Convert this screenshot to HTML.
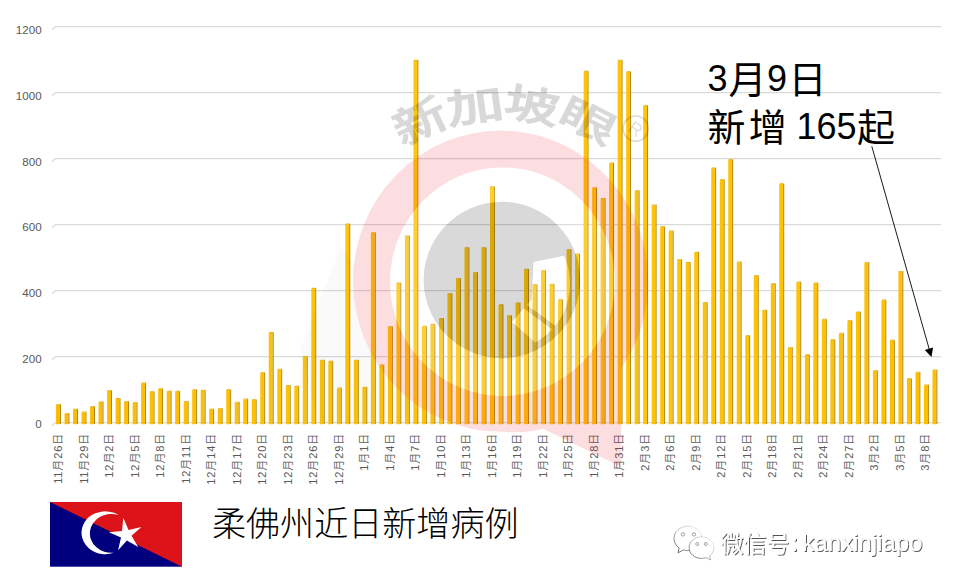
<!DOCTYPE html>
<html lang="zh"><head><meta charset="utf-8"><title>柔佛州近日新增病例</title>
<style>html,body{margin:0;padding:0;background:#fff}body{width:955px;height:587px;overflow:hidden}svg{display:block}text{font-family:"Liberation Sans", "Noto Sans CJK SC", sans-serif}</style></head><body>
<svg width="955" height="587" viewBox="0 0 955 587">
<defs>
<linearGradient id="bf" x1="0" x2="1" y1="0" y2="0"><stop offset="0" stop-color="#FCBB00"/><stop offset="0.45" stop-color="#FFC60C"/><stop offset="1" stop-color="#FEBF00"/></linearGradient>
<clipPath id="outring"><path clip-rule="evenodd" d="M250 150 H520 V480 H250 Z M501 130.6 A148 150.6 0 0 1 501 431.8 A148 150.6 0 0 1 501 130.6 Z"/></clipPath>
<linearGradient id="wcs" x1="1" y1="0" x2="0" y2="1"><stop offset="0" stop-color="#555" stop-opacity="0.04"/><stop offset="0.5" stop-color="#555" stop-opacity="0.4"/><stop offset="1" stop-color="#444" stop-opacity="0.95"/></linearGradient>
<filter id="tsh" x="-5%" y="-20%" width="110%" height="150%"><feDropShadow dx="0.9" dy="0.9" stdDeviation="0.7" flood-color="#000" flood-opacity="0.75"/></filter>
<mask id="dm" maskUnits="userSpaceOnUse" x="400" y="180" width="210" height="200"><rect x="400" y="180" width="210" height="200" fill="#fff"/><path d="M533.6 262 L564 255.7 A67.5 67.5 0 0 1 535.4 342.5 L512 322 L524.5 307.8 L531.6 300 Z" fill="#000"/><path d="M523.0 307.7 L525.7 304.0 L558.4 328.1 L555.6 331.9 Z" fill="#fff"/></mask>
<mask id="gm" maskUnits="userSpaceOnUse" x="400" y="180" width="210" height="200"><rect x="400" y="180" width="210" height="200" fill="#fff"/><path d="M523.0 307.7 L525.7 304.0 L558.4 328.1 L555.6 331.9 Z" fill="#000"/></mask>
</defs>
<rect width="955" height="587" fill="#fff"/>
<g stroke="#D9D9D9" stroke-width="1.1" fill="none">
<path d="M52 425.5 L55.6 422.6 H941"/>
<path d="M52 359.5 L55.6 356.6 H941"/>
<path d="M52 293.5 L55.6 290.6 H941"/>
<path d="M52 227.5 L55.6 224.6 H941"/>
<path d="M52 161.5 L55.6 158.6 H941"/>
<path d="M52 95.5 L55.6 92.6 H941"/>
<path d="M52 29.5 L55.6 26.6 H941"/>
</g>
<g font-size="11.6" fill="#595959" text-anchor="end">
<text x="41.6" y="428.1">0</text>
<text x="41.6" y="362.5">200</text>
<text x="41.6" y="296.9">400</text>
<text x="41.6" y="231.3">600</text>
<text x="41.6" y="165.7">800</text>
<text x="41.6" y="100.0">1000</text>
<text x="41.6" y="34.4">1200</text>
</g>
<g>
<path fill="url(#bf)" d="M56.05 404.72h3.90V424.20h-3.90zM64.56 413.63h3.90V424.20h-3.90zM73.07 409.34h3.90V424.20h-3.90zM81.58 412.15h3.90V424.20h-3.90zM90.09 406.70h3.90V424.20h-3.90zM98.59 402.08h3.90V424.20h-3.90zM107.10 390.86h3.90V424.20h-3.90zM115.61 398.78h3.90V424.20h-3.90zM124.12 401.75h3.90V424.20h-3.90zM132.63 402.74h3.90V424.20h-3.90zM141.14 383.27h3.90V424.20h-3.90zM149.65 392.02h3.90V424.20h-3.90zM158.16 388.88h3.90V424.20h-3.90zM166.67 391.36h3.90V424.20h-3.90zM175.18 391.36h3.90V424.20h-3.90zM183.69 401.75h3.90V424.20h-3.90zM192.19 389.97h3.90V424.20h-3.90zM200.70 390.33h3.90V424.20h-3.90zM209.21 409.57h3.90V424.20h-3.90zM217.72 408.71h3.90V424.20h-3.90zM226.23 389.97h3.90V424.20h-3.90zM234.74 402.41h3.90V424.20h-3.90zM243.25 399.18h3.90V424.20h-3.90zM251.76 399.87h3.90V424.20h-3.90zM260.27 372.94h3.90V424.20h-3.90zM268.78 332.78h3.90V424.20h-3.90zM277.28 369.41h3.90V424.20h-3.90zM285.79 385.58h3.90V424.20h-3.90zM294.30 386.57h3.90V424.20h-3.90zM302.81 356.94h3.90V424.20h-3.90zM311.32 288.56h3.90V424.20h-3.90zM319.83 360.34h3.90V424.20h-3.90zM328.34 361.36h3.90V424.20h-3.90zM336.85 388.22h3.90V424.20h-3.90zM345.36 224.21h3.90V424.20h-3.90zM353.87 360.34h3.90V424.20h-3.90zM362.37 387.56h3.90V424.20h-3.90zM370.88 232.92h3.90V424.20h-3.90zM379.39 365.29h3.90V424.20h-3.90zM387.90 326.94h3.90V424.20h-3.90zM396.41 283.28h3.90V424.20h-3.90zM404.92 236.09h3.90V424.20h-3.90zM413.43 60.33h3.90V424.20h-3.90zM421.94 326.51h3.90V424.20h-3.90zM430.45 324.53h3.90V424.20h-3.90zM438.96 318.59h3.90V424.20h-3.90zM447.46 293.84h3.90V424.20h-3.90zM455.97 278.76h3.90V424.20h-3.90zM464.48 247.97h3.90V424.20h-3.90zM472.99 272.72h3.90V424.20h-3.90zM481.50 247.97h3.90V424.20h-3.90zM490.01 186.92h3.90V424.20h-3.90zM498.52 305.06h3.90V424.20h-3.90zM507.03 315.95h3.90V424.20h-3.90zM515.54 303.08h3.90V424.20h-3.90zM524.04 269.55h3.90V424.20h-3.90zM532.55 284.93h3.90V424.20h-3.90zM541.06 270.74h3.90V424.20h-3.90zM549.57 284.37h3.90V424.20h-3.90zM558.08 299.88h3.90V424.20h-3.90zM566.59 249.95h3.90V424.20h-3.90zM575.10 254.08h3.90V424.20h-3.90zM583.61 71.55h3.90V424.20h-3.90zM592.12 187.98h3.90V424.20h-3.90zM600.63 198.80h3.90V424.20h-3.90zM609.13 163.16h3.90V424.20h-3.90zM617.64 60.33h3.90V424.20h-3.90zM626.15 71.91h3.90V424.20h-3.90zM634.66 190.88h3.90V424.20h-3.90zM643.17 106.07h3.90V424.20h-3.90zM651.68 205.20h3.90V424.20h-3.90zM660.19 226.98h3.90V424.20h-3.90zM668.70 231.24h3.90V424.20h-3.90zM677.21 259.85h3.90V424.20h-3.90zM685.72 262.82h3.90V424.20h-3.90zM694.23 252.36h3.90V424.20h-3.90zM702.73 302.75h3.90V424.20h-3.90zM711.24 168.24h3.90V424.20h-3.90zM719.75 179.83h3.90V424.20h-3.90zM728.26 159.86h3.90V424.20h-3.90zM736.77 262.16h3.90V424.20h-3.90zM745.28 335.98h3.90V424.20h-3.90zM753.79 275.69h3.90V424.20h-3.90zM762.30 310.34h3.90V424.20h-3.90zM770.81 284.04h3.90V424.20h-3.90zM779.31 183.95h3.90V424.20h-3.90zM787.82 347.73h3.90V424.20h-3.90zM796.33 282.16h3.90V424.20h-3.90zM804.84 355.06h3.90V424.20h-3.90zM813.35 283.18h3.90V424.20h-3.90zM821.86 319.48h3.90V424.20h-3.90zM830.37 339.88h3.90V424.20h-3.90zM838.88 333.44h3.90V424.20h-3.90zM847.39 321.00h3.90V424.20h-3.90zM855.90 312.32h3.90V424.20h-3.90zM864.40 262.75h3.90V424.20h-3.90zM872.91 370.90h3.90V424.20h-3.90zM881.42 300.24h3.90V424.20h-3.90zM889.93 340.57h3.90V424.20h-3.90zM898.44 271.60h3.90V424.20h-3.90zM906.95 378.91h3.90V424.20h-3.90zM915.46 372.45h3.90V424.20h-3.90zM923.97 385.25h3.90V424.20h-3.90zM932.48 370.20h3.90V424.20h-3.90z"/>
<path fill="#B38600" d="M59.95 404.72l1.00 -0.7V423.70l-1.00 0.5zM68.46 413.63l1.00 -0.7V423.70l-1.00 0.5zM76.97 409.34l1.00 -0.7V423.70l-1.00 0.5zM85.48 412.15l1.00 -0.7V423.70l-1.00 0.5zM93.99 406.70l1.00 -0.7V423.70l-1.00 0.5zM102.50 402.08l1.00 -0.7V423.70l-1.00 0.5zM111.00 390.86l1.00 -0.7V423.70l-1.00 0.5zM119.51 398.78l1.00 -0.7V423.70l-1.00 0.5zM128.02 401.75l1.00 -0.7V423.70l-1.00 0.5zM136.53 402.74l1.00 -0.7V423.70l-1.00 0.5zM145.04 383.27l1.00 -0.7V423.70l-1.00 0.5zM153.55 392.02l1.00 -0.7V423.70l-1.00 0.5zM162.06 388.88l1.00 -0.7V423.70l-1.00 0.5zM170.57 391.36l1.00 -0.7V423.70l-1.00 0.5zM179.08 391.36l1.00 -0.7V423.70l-1.00 0.5zM187.59 401.75l1.00 -0.7V423.70l-1.00 0.5zM196.09 389.97l1.00 -0.7V423.70l-1.00 0.5zM204.60 390.33l1.00 -0.7V423.70l-1.00 0.5zM213.11 409.57l1.00 -0.7V423.70l-1.00 0.5zM221.62 408.71l1.00 -0.7V423.70l-1.00 0.5zM230.13 389.97l1.00 -0.7V423.70l-1.00 0.5zM238.64 402.41l1.00 -0.7V423.70l-1.00 0.5zM247.15 399.18l1.00 -0.7V423.70l-1.00 0.5zM255.66 399.87l1.00 -0.7V423.70l-1.00 0.5zM264.17 372.94l1.00 -0.7V423.70l-1.00 0.5zM272.68 332.78l1.00 -0.7V423.70l-1.00 0.5zM281.18 369.41l1.00 -0.7V423.70l-1.00 0.5zM289.69 385.58l1.00 -0.7V423.70l-1.00 0.5zM298.20 386.57l1.00 -0.7V423.70l-1.00 0.5zM306.71 356.94l1.00 -0.7V423.70l-1.00 0.5zM315.22 288.56l1.00 -0.7V423.70l-1.00 0.5zM323.73 360.34l1.00 -0.7V423.70l-1.00 0.5zM332.24 361.36l1.00 -0.7V423.70l-1.00 0.5zM340.75 388.22l1.00 -0.7V423.70l-1.00 0.5zM349.26 224.21l1.00 -0.7V423.70l-1.00 0.5zM357.76 360.34l1.00 -0.7V423.70l-1.00 0.5zM366.27 387.56l1.00 -0.7V423.70l-1.00 0.5zM374.78 232.92l1.00 -0.7V423.70l-1.00 0.5zM383.29 365.29l1.00 -0.7V423.70l-1.00 0.5zM391.80 326.94l1.00 -0.7V423.70l-1.00 0.5zM400.31 283.28l1.00 -0.7V423.70l-1.00 0.5zM408.82 236.09l1.00 -0.7V423.70l-1.00 0.5zM417.33 60.33l1.00 -0.7V423.70l-1.00 0.5zM425.84 326.51l1.00 -0.7V423.70l-1.00 0.5zM434.35 324.53l1.00 -0.7V423.70l-1.00 0.5zM442.86 318.59l1.00 -0.7V423.70l-1.00 0.5zM451.36 293.84l1.00 -0.7V423.70l-1.00 0.5zM459.87 278.76l1.00 -0.7V423.70l-1.00 0.5zM468.38 247.97l1.00 -0.7V423.70l-1.00 0.5zM476.89 272.72l1.00 -0.7V423.70l-1.00 0.5zM485.40 247.97l1.00 -0.7V423.70l-1.00 0.5zM493.91 186.92l1.00 -0.7V423.70l-1.00 0.5zM502.42 305.06l1.00 -0.7V423.70l-1.00 0.5zM510.93 315.95l1.00 -0.7V423.70l-1.00 0.5zM519.44 303.08l1.00 -0.7V423.70l-1.00 0.5zM527.94 269.55l1.00 -0.7V423.70l-1.00 0.5zM536.45 284.93l1.00 -0.7V423.70l-1.00 0.5zM544.96 270.74l1.00 -0.7V423.70l-1.00 0.5zM553.47 284.37l1.00 -0.7V423.70l-1.00 0.5zM561.98 299.88l1.00 -0.7V423.70l-1.00 0.5zM570.49 249.95l1.00 -0.7V423.70l-1.00 0.5zM579.00 254.08l1.00 -0.7V423.70l-1.00 0.5zM587.51 71.55l1.00 -0.7V423.70l-1.00 0.5zM596.02 187.98l1.00 -0.7V423.70l-1.00 0.5zM604.53 198.80l1.00 -0.7V423.70l-1.00 0.5zM613.03 163.16l1.00 -0.7V423.70l-1.00 0.5zM621.54 60.33l1.00 -0.7V423.70l-1.00 0.5zM630.05 71.91l1.00 -0.7V423.70l-1.00 0.5zM638.56 190.88l1.00 -0.7V423.70l-1.00 0.5zM647.07 106.07l1.00 -0.7V423.70l-1.00 0.5zM655.58 205.20l1.00 -0.7V423.70l-1.00 0.5zM664.09 226.98l1.00 -0.7V423.70l-1.00 0.5zM672.60 231.24l1.00 -0.7V423.70l-1.00 0.5zM681.11 259.85l1.00 -0.7V423.70l-1.00 0.5zM689.62 262.82l1.00 -0.7V423.70l-1.00 0.5zM698.12 252.36l1.00 -0.7V423.70l-1.00 0.5zM706.63 302.75l1.00 -0.7V423.70l-1.00 0.5zM715.14 168.24l1.00 -0.7V423.70l-1.00 0.5zM723.65 179.83l1.00 -0.7V423.70l-1.00 0.5zM732.16 159.86l1.00 -0.7V423.70l-1.00 0.5zM740.67 262.16l1.00 -0.7V423.70l-1.00 0.5zM749.18 335.98l1.00 -0.7V423.70l-1.00 0.5zM757.69 275.69l1.00 -0.7V423.70l-1.00 0.5zM766.20 310.34l1.00 -0.7V423.70l-1.00 0.5zM774.71 284.04l1.00 -0.7V423.70l-1.00 0.5zM783.21 183.95l1.00 -0.7V423.70l-1.00 0.5zM791.72 347.73l1.00 -0.7V423.70l-1.00 0.5zM800.23 282.16l1.00 -0.7V423.70l-1.00 0.5zM808.74 355.06l1.00 -0.7V423.70l-1.00 0.5zM817.25 283.18l1.00 -0.7V423.70l-1.00 0.5zM825.76 319.48l1.00 -0.7V423.70l-1.00 0.5zM834.27 339.88l1.00 -0.7V423.70l-1.00 0.5zM842.78 333.44l1.00 -0.7V423.70l-1.00 0.5zM851.29 321.00l1.00 -0.7V423.70l-1.00 0.5zM859.80 312.32l1.00 -0.7V423.70l-1.00 0.5zM868.30 262.75l1.00 -0.7V423.70l-1.00 0.5zM876.81 370.90l1.00 -0.7V423.70l-1.00 0.5zM885.32 300.24l1.00 -0.7V423.70l-1.00 0.5zM893.83 340.57l1.00 -0.7V423.70l-1.00 0.5zM902.34 271.60l1.00 -0.7V423.70l-1.00 0.5zM910.85 378.91l1.00 -0.7V423.70l-1.00 0.5zM919.36 372.45l1.00 -0.7V423.70l-1.00 0.5zM927.87 385.25l1.00 -0.7V423.70l-1.00 0.5zM936.38 370.20l1.00 -0.7V423.70l-1.00 0.5z"/>
<path fill="#E8AE00" d="M56.05 404.82l0.9 -0.8h3.90l-0.9 0.8zM64.56 413.73l0.9 -0.8h3.90l-0.9 0.8zM73.07 409.44l0.9 -0.8h3.90l-0.9 0.8zM81.58 412.25l0.9 -0.8h3.90l-0.9 0.8zM90.09 406.80l0.9 -0.8h3.90l-0.9 0.8zM98.59 402.18l0.9 -0.8h3.90l-0.9 0.8zM107.10 390.96l0.9 -0.8h3.90l-0.9 0.8zM115.61 398.88l0.9 -0.8h3.90l-0.9 0.8zM124.12 401.85l0.9 -0.8h3.90l-0.9 0.8zM132.63 402.84l0.9 -0.8h3.90l-0.9 0.8zM141.14 383.37l0.9 -0.8h3.90l-0.9 0.8zM149.65 392.12l0.9 -0.8h3.90l-0.9 0.8zM158.16 388.98l0.9 -0.8h3.90l-0.9 0.8zM166.67 391.45l0.9 -0.8h3.90l-0.9 0.8zM175.18 391.45l0.9 -0.8h3.90l-0.9 0.8zM183.69 401.85l0.9 -0.8h3.90l-0.9 0.8zM192.19 390.07l0.9 -0.8h3.90l-0.9 0.8zM200.70 390.43l0.9 -0.8h3.90l-0.9 0.8zM209.21 409.67l0.9 -0.8h3.90l-0.9 0.8zM217.72 408.81l0.9 -0.8h3.90l-0.9 0.8zM226.23 390.07l0.9 -0.8h3.90l-0.9 0.8zM234.74 402.51l0.9 -0.8h3.90l-0.9 0.8zM243.25 399.28l0.9 -0.8h3.90l-0.9 0.8zM251.76 399.97l0.9 -0.8h3.90l-0.9 0.8zM260.27 373.04l0.9 -0.8h3.90l-0.9 0.8zM268.78 332.88l0.9 -0.8h3.90l-0.9 0.8zM277.28 369.51l0.9 -0.8h3.90l-0.9 0.8zM285.79 385.68l0.9 -0.8h3.90l-0.9 0.8zM294.30 386.67l0.9 -0.8h3.90l-0.9 0.8zM302.81 357.04l0.9 -0.8h3.90l-0.9 0.8zM311.32 288.66l0.9 -0.8h3.90l-0.9 0.8zM319.83 360.44l0.9 -0.8h3.90l-0.9 0.8zM328.34 361.46l0.9 -0.8h3.90l-0.9 0.8zM336.85 388.32l0.9 -0.8h3.90l-0.9 0.8zM345.36 224.31l0.9 -0.8h3.90l-0.9 0.8zM353.87 360.44l0.9 -0.8h3.90l-0.9 0.8zM362.37 387.66l0.9 -0.8h3.90l-0.9 0.8zM370.88 233.02l0.9 -0.8h3.90l-0.9 0.8zM379.39 365.38l0.9 -0.8h3.90l-0.9 0.8zM387.90 327.04l0.9 -0.8h3.90l-0.9 0.8zM396.41 283.38l0.9 -0.8h3.90l-0.9 0.8zM404.92 236.19l0.9 -0.8h3.90l-0.9 0.8zM413.43 60.43l0.9 -0.8h3.90l-0.9 0.8zM421.94 326.61l0.9 -0.8h3.90l-0.9 0.8zM430.45 324.63l0.9 -0.8h3.90l-0.9 0.8zM438.96 318.69l0.9 -0.8h3.90l-0.9 0.8zM447.46 293.94l0.9 -0.8h3.90l-0.9 0.8zM455.97 278.86l0.9 -0.8h3.90l-0.9 0.8zM464.48 248.07l0.9 -0.8h3.90l-0.9 0.8zM472.99 272.82l0.9 -0.8h3.90l-0.9 0.8zM481.50 248.07l0.9 -0.8h3.90l-0.9 0.8zM490.01 187.02l0.9 -0.8h3.90l-0.9 0.8zM498.52 305.16l0.9 -0.8h3.90l-0.9 0.8zM507.03 316.05l0.9 -0.8h3.90l-0.9 0.8zM515.54 303.18l0.9 -0.8h3.90l-0.9 0.8zM524.04 269.65l0.9 -0.8h3.90l-0.9 0.8zM532.55 285.03l0.9 -0.8h3.90l-0.9 0.8zM541.06 270.84l0.9 -0.8h3.90l-0.9 0.8zM549.57 284.47l0.9 -0.8h3.90l-0.9 0.8zM558.08 299.98l0.9 -0.8h3.90l-0.9 0.8zM566.59 250.05l0.9 -0.8h3.90l-0.9 0.8zM575.10 254.18l0.9 -0.8h3.90l-0.9 0.8zM583.61 71.65l0.9 -0.8h3.90l-0.9 0.8zM592.12 188.08l0.9 -0.8h3.90l-0.9 0.8zM600.63 198.90l0.9 -0.8h3.90l-0.9 0.8zM609.13 163.26l0.9 -0.8h3.90l-0.9 0.8zM617.64 60.43l0.9 -0.8h3.90l-0.9 0.8zM626.15 72.02l0.9 -0.8h3.90l-0.9 0.8zM634.66 190.98l0.9 -0.8h3.90l-0.9 0.8zM643.17 106.17l0.9 -0.8h3.90l-0.9 0.8zM651.68 205.30l0.9 -0.8h3.90l-0.9 0.8zM660.19 227.08l0.9 -0.8h3.90l-0.9 0.8zM668.70 231.34l0.9 -0.8h3.90l-0.9 0.8zM677.21 259.95l0.9 -0.8h3.90l-0.9 0.8zM685.72 262.92l0.9 -0.8h3.90l-0.9 0.8zM694.23 252.46l0.9 -0.8h3.90l-0.9 0.8zM702.73 302.85l0.9 -0.8h3.90l-0.9 0.8zM711.24 168.34l0.9 -0.8h3.90l-0.9 0.8zM719.75 179.93l0.9 -0.8h3.90l-0.9 0.8zM728.26 159.96l0.9 -0.8h3.90l-0.9 0.8zM736.77 262.26l0.9 -0.8h3.90l-0.9 0.8zM745.28 336.08l0.9 -0.8h3.90l-0.9 0.8zM753.79 275.79l0.9 -0.8h3.90l-0.9 0.8zM762.30 310.44l0.9 -0.8h3.90l-0.9 0.8zM770.81 284.14l0.9 -0.8h3.90l-0.9 0.8zM779.31 184.05l0.9 -0.8h3.90l-0.9 0.8zM787.82 347.83l0.9 -0.8h3.90l-0.9 0.8zM796.33 282.26l0.9 -0.8h3.90l-0.9 0.8zM804.84 355.16l0.9 -0.8h3.90l-0.9 0.8zM813.35 283.28l0.9 -0.8h3.90l-0.9 0.8zM821.86 319.58l0.9 -0.8h3.90l-0.9 0.8zM830.37 339.98l0.9 -0.8h3.90l-0.9 0.8zM838.88 333.54l0.9 -0.8h3.90l-0.9 0.8zM847.39 321.10l0.9 -0.8h3.90l-0.9 0.8zM855.90 312.42l0.9 -0.8h3.90l-0.9 0.8zM864.40 262.85l0.9 -0.8h3.90l-0.9 0.8zM872.91 371.00l0.9 -0.8h3.90l-0.9 0.8zM881.42 300.34l0.9 -0.8h3.90l-0.9 0.8zM889.93 340.67l0.9 -0.8h3.90l-0.9 0.8zM898.44 271.70l0.9 -0.8h3.90l-0.9 0.8zM906.95 379.01l0.9 -0.8h3.90l-0.9 0.8zM915.46 372.55l0.9 -0.8h3.90l-0.9 0.8zM923.97 385.35l0.9 -0.8h3.90l-0.9 0.8zM932.48 370.30l0.9 -0.8h3.90l-0.9 0.8z"/>
</g>
<g font-size="11" fill="#595959" text-anchor="end" letter-spacing="0.9" font-weight="350">
<text transform="translate(58.2 432.8) rotate(-90)" x="0" y="3.9">11月26日</text>
<text transform="translate(83.7 432.8) rotate(-90)" x="0" y="3.9">11月29日</text>
<text transform="translate(109.2 432.8) rotate(-90)" x="0" y="3.9">12月2日</text>
<text transform="translate(134.7 432.8) rotate(-90)" x="0" y="3.9">12月5日</text>
<text transform="translate(160.2 432.8) rotate(-90)" x="0" y="3.9">12月8日</text>
<text transform="translate(185.7 432.8) rotate(-90)" x="0" y="3.9">12月11日</text>
<text transform="translate(211.2 432.8) rotate(-90)" x="0" y="3.9">12月14日</text>
<text transform="translate(236.7 432.8) rotate(-90)" x="0" y="3.9">12月17日</text>
<text transform="translate(262.2 432.8) rotate(-90)" x="0" y="3.9">12月20日</text>
<text transform="translate(287.7 432.8) rotate(-90)" x="0" y="3.9">12月23日</text>
<text transform="translate(313.2 432.8) rotate(-90)" x="0" y="3.9">12月26日</text>
<text transform="translate(338.7 432.8) rotate(-90)" x="0" y="3.9">12月29日</text>
<text transform="translate(364.2 432.8) rotate(-90)" x="0" y="3.9">1月1日</text>
<text transform="translate(389.7 432.8) rotate(-90)" x="0" y="3.9">1月4日</text>
<text transform="translate(415.2 432.8) rotate(-90)" x="0" y="3.9">1月7日</text>
<text transform="translate(440.7 432.8) rotate(-90)" x="0" y="3.9">1月10日</text>
<text transform="translate(466.2 432.8) rotate(-90)" x="0" y="3.9">1月13日</text>
<text transform="translate(491.6 432.8) rotate(-90)" x="0" y="3.9">1月16日</text>
<text transform="translate(517.1 432.8) rotate(-90)" x="0" y="3.9">1月19日</text>
<text transform="translate(542.6 432.8) rotate(-90)" x="0" y="3.9">1月22日</text>
<text transform="translate(568.1 432.8) rotate(-90)" x="0" y="3.9">1月25日</text>
<text transform="translate(593.6 432.8) rotate(-90)" x="0" y="3.9">1月28日</text>
<text transform="translate(619.1 432.8) rotate(-90)" x="0" y="3.9">1月31日</text>
<text transform="translate(644.6 432.8) rotate(-90)" x="0" y="3.9">2月3日</text>
<text transform="translate(670.1 432.8) rotate(-90)" x="0" y="3.9">2月6日</text>
<text transform="translate(695.6 432.8) rotate(-90)" x="0" y="3.9">2月9日</text>
<text transform="translate(721.1 432.8) rotate(-90)" x="0" y="3.9">2月12日</text>
<text transform="translate(746.6 432.8) rotate(-90)" x="0" y="3.9">2月15日</text>
<text transform="translate(772.1 432.8) rotate(-90)" x="0" y="3.9">2月18日</text>
<text transform="translate(797.6 432.8) rotate(-90)" x="0" y="3.9">2月21日</text>
<text transform="translate(823.1 432.8) rotate(-90)" x="0" y="3.9">2月24日</text>
<text transform="translate(848.6 432.8) rotate(-90)" x="0" y="3.9">2月27日</text>
<text transform="translate(874.1 432.8) rotate(-90)" x="0" y="3.9">3月2日</text>
<text transform="translate(899.6 432.8) rotate(-90)" x="0" y="3.9">3月5日</text>
<text transform="translate(925.1 432.8) rotate(-90)" x="0" y="3.9">3月8日</text>
</g>
<g>
<path fill="#000" fill-opacity="0.018" clip-path="url(#outring)" d="M341 247 L300 349 L318 423 L440 423 L380 300 Z"/>
<path fill="#E60012" fill-opacity="0.13" fill-rule="evenodd" d="M501 130.6 A148 150.6 0 0 1 621.3 368 L621.3 467 L543.5 428.9 A148 150.6 0 0 1 501 431.8 A148 150.6 0 0 1 501 130.6 Z M502.5 167.4 A112.5 114.3 0 0 0 502.5 396 A112.5 114.3 0 0 0 502.5 167.4 Z"/>
<path fill="#fff" fill-opacity="0.15" fill-rule="evenodd" d="M502.5 167.4 A112.5 114.3 0 0 0 502.5 396 A112.5 114.3 0 0 0 502.5 167.4 Z M501.9 201.7 A78.3 78.3 0 0 1 501.9 358.3 A78.3 78.3 0 0 1 501.9 201.7 Z"/>
<circle cx="501.9" cy="280" r="78.3" fill="#000" fill-opacity="0.15" mask="url(#dm)"/>
<path fill="#fff" fill-opacity="0.15" mask="url(#gm)" d="M533.6 262 L564 255.7 A67.5 67.5 0 0 1 535.4 342.5 L512 322 L524.5 307.8 L531.6 300 Z"/>
<g font-size="38" font-weight="500" fill="#000" stroke="#000" stroke-width="1.1" stroke-linejoin="round" opacity="0.15" text-anchor="middle" dominant-baseline="central">
<text transform="translate(420.4 121.8) rotate(-25) scale(1.441 1.111)" vector-effect="non-scaling-stroke" x="0" y="0">新</text>
<text transform="translate(475.2 107.1) rotate(-8) scale(1.522 1.071)" vector-effect="non-scaling-stroke" x="0" y="0">加</text>
<text transform="translate(532.0 106.2) rotate(10) scale(1.457 1.074)" vector-effect="non-scaling-stroke" x="0" y="0">坡</text>
<text transform="translate(587.7 121.7) rotate(27) scale(1.520 1.018)" vector-effect="non-scaling-stroke" x="0" y="0">眼</text>
</g>
<g fill="none" stroke="#000" stroke-opacity="0.145" stroke-width="1.7"><circle cx="635.7" cy="128.6" r="12.6"/></g>
<text transform="translate(635.7 128.6) rotate(35)" x="0" y="6.5" font-size="18" fill="#000" fill-opacity="0.145" text-anchor="middle">R</text>
</g>
<g fill="#000">
<text x="707.5" y="91.2" font-size="36">3</text>
<text x="728.4" y="93.0" font-size="38">月</text>
<text x="767.0" y="91.2" font-size="36">9</text>
<text x="788.6" y="92.8" font-size="38">日</text>
<text x="707.4" y="141.0" font-size="38">新</text>
<text x="748.8" y="141.0" font-size="38">增</text>
<text x="796.4" y="139.3" font-size="36">165</text>
<text x="857.0" y="141.0" font-size="38">起</text>
</g>
<path d="M871.8 146.3 L929.6 350.5" stroke="#000" stroke-width="0.9" fill="none"/>
<path d="M931.5 357 L924.8 349.9 L933.0 347.6 Z" fill="#000"/>
<g>
<rect x="50" y="502" width="132" height="64.7" fill="#00007F"/>
<path d="M50 502 H182 V566.7 Z" fill="#DC1419"/>
<path fill="#fff" d="M118.6 515.1 A23.65 21.4 0 1 0 113.7 552.7 A21.47 19.43 0 1 1 118.6 515.1 Z"/>
<polygon fill="#fff" points="123.3,517.8 128.5,529.9 141.4,527.0 131.5,535.8 138.2,547.1 126.9,540.4 118.1,550.3 121.0,537.4 108.9,532.2 122.0,530.9"/>
</g>
<text x="211.9" y="535.5" font-size="34.1" font-weight="300" fill="#000">柔佛州近日新增病例</text>
<g>
<g fill="#fff" stroke="url(#wcs)" stroke-width="0.95" stroke-linejoin="round">
<path d="M687.9 526.2 c-7.7 0 -13.9 5.5 -13.9 12.3 c0 3.800 2 7.200 5.100 9.500 l-1 4.800 l5.200 -2.900 c1.500 0.400 3 0.700 4.600 0.700 c7.700 0 13.900 -5.500 13.900 -12.300 s-6.200 -12.100 -13.900 -12.100z"/>
<path d="M701.5 536.8 c-6.900 0 -12.400 4.800 -12.400 10.800 s5.500 10.800 12.400 10.800 c1.700 0 3.300 -0.300 4.800 -0.800 l4.300 2.400 l-1 -4.100 c2.700 -2 4.300 -4.900 4.300 -8.300 c0 -6 -5.500 -10.800 -12.400 -10.800z"/>
</g>
<g fill="#fff" stroke="#555" stroke-opacity="0.75" stroke-width="0.7"><circle cx="683" cy="534.4" r="1.7"/><circle cx="694" cy="534.4" r="1.7"/><circle cx="697.2" cy="544" r="1.5"/><circle cx="705.9" cy="544" r="1.5"/></g>
<g fill="#fff" filter="url(#tsh)">
<text x="720.6" y="551.6" font-size="23">微信号</text>
<text x="791.4" y="551.4" font-size="24">:</text>
<text x="802.3" y="551.4" font-size="24">kanxinjiapo</text>
</g>
</g>
</svg></body></html>
